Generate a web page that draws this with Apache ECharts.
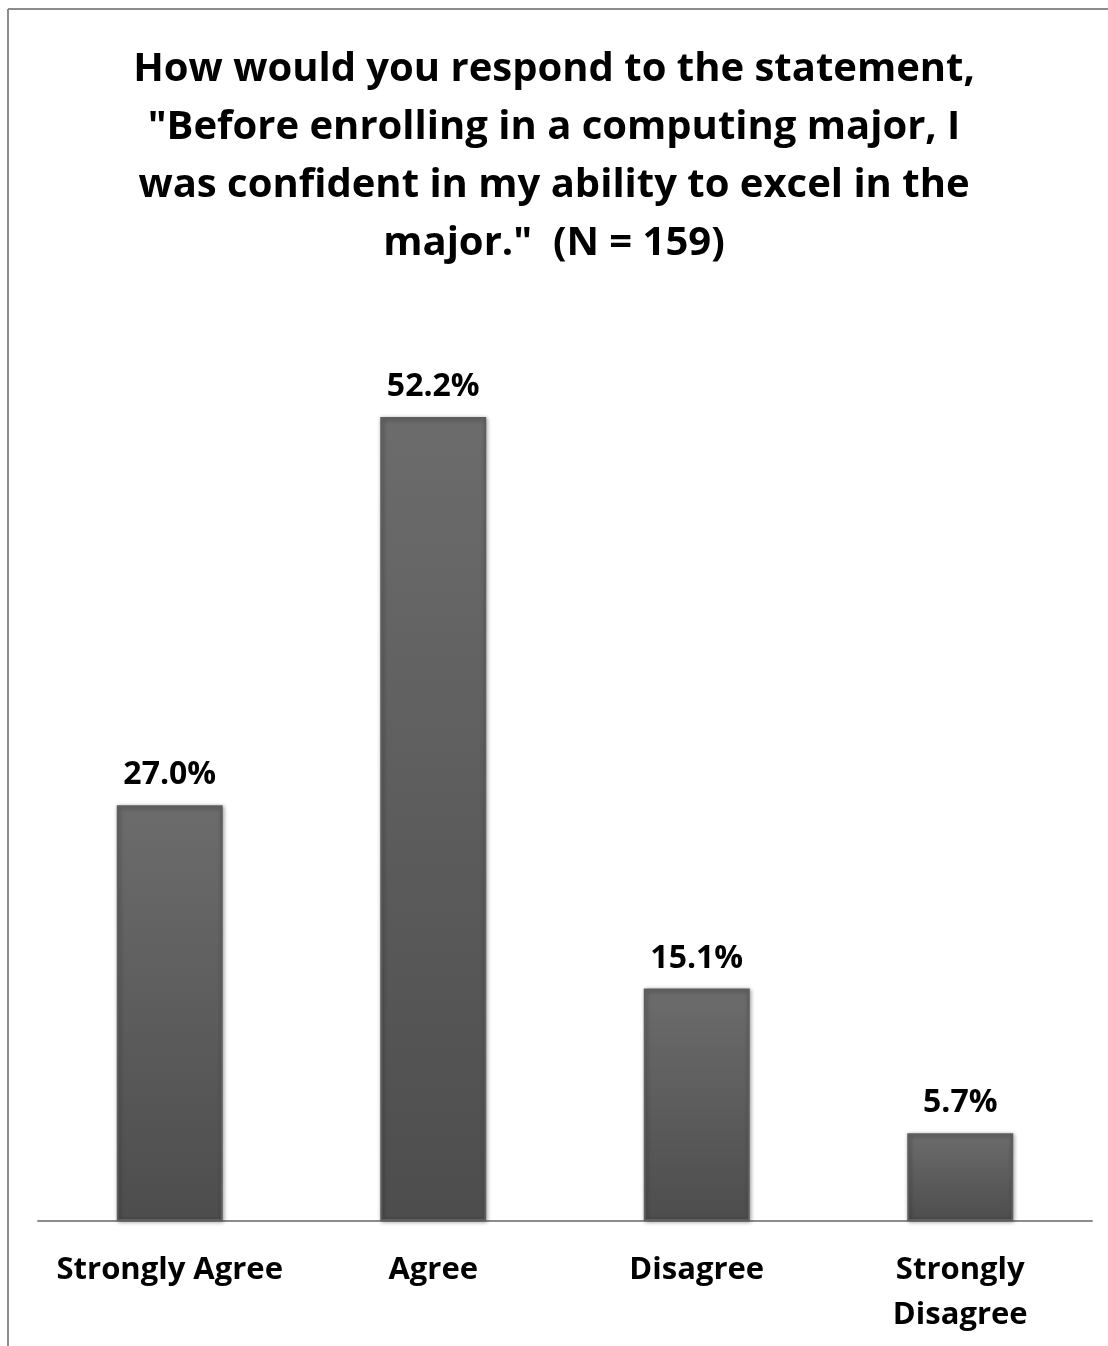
<!DOCTYPE html>
<html><head><meta charset="utf-8">
<script src="https://cdn.jsdelivr.net/npm/echarts@6/dist/echarts.min.js"></script>
<style>html,body{margin:0;padding:0;background:#fff}#c{width:1108px;height:1346px}</style>
</head><body><div id="c"></div>
<script>
const titleText = 'How would you respond to the statement,\n"Before enrolling in a computing major, I\nwas confident in my ability to excel in the\nmajor."  (N = 159)';
const categories = ['Strongly Agree', 'Agree', 'Disagree', 'Strongly\nDisagree'];
const values = [27.0, 52.2, 15.1, 5.7];

const chart = echarts.init(document.getElementById('c'));
const FONT = '"Open Sans"';
chart.setOption({
  animation: false,
  backgroundColor: '#fff',
  title: {
    text: titleText, left: 'center', top: 36,
    textStyle: { fontFamily: FONT, fontWeight: 'bold', fontSize: 40, lineHeight: 58, color: '#000' }
  },
  graphic: [
    { type: 'line', shape: { x1: 8, y1: 9, x2: 1108, y2: 9 }, style: { stroke: '#8c8c8c', lineWidth: 2 } },
    { type: 'line', shape: { x1: 8, y1: 9, x2: 8, y2: 1346 }, style: { stroke: '#8c8c8c', lineWidth: 2 } }
  ],
  grid: { left: 38, right: 16, top: 297, bottom: 125 },
  xAxis: {
    type: 'category', data: categories,
    axisLine: { lineStyle: { color: '#8c8c8c', width: 2 } },
    axisTick: { show: false },
    axisLabel: { interval: 0, fontFamily: FONT, fontWeight: 'bold', fontSize: 31, lineHeight: 45, color: '#000', margin: 27, verticalAlign: 'top' }
  },
  yAxis: { type: 'value', min: 0, max: 60, show: false, splitLine: { show: false } },
  series: [{
    type: 'bar', data: values, barWidth: 106,
    itemStyle: {
      color: new echarts.graphic.LinearGradient(0, 0, 0, 1, [
        { offset: 0, color: '#6c6c6c' }, { offset: 1, color: '#4d4d4d' }
      ]),
      borderColor: '#5e5e5e', borderWidth: 2,
      shadowColor: 'rgba(0,0,0,0.35)', shadowBlur: 4, shadowOffsetX: 1, shadowOffsetY: 1
    },
    label: {
      show: true, position: 'top', distance: 14,
      formatter: p => p.value.toFixed(1) + '%',
      fontFamily: FONT, fontWeight: 'bold', fontSize: 32, color: '#000'
    }
  }]
});
</script></body></html>
